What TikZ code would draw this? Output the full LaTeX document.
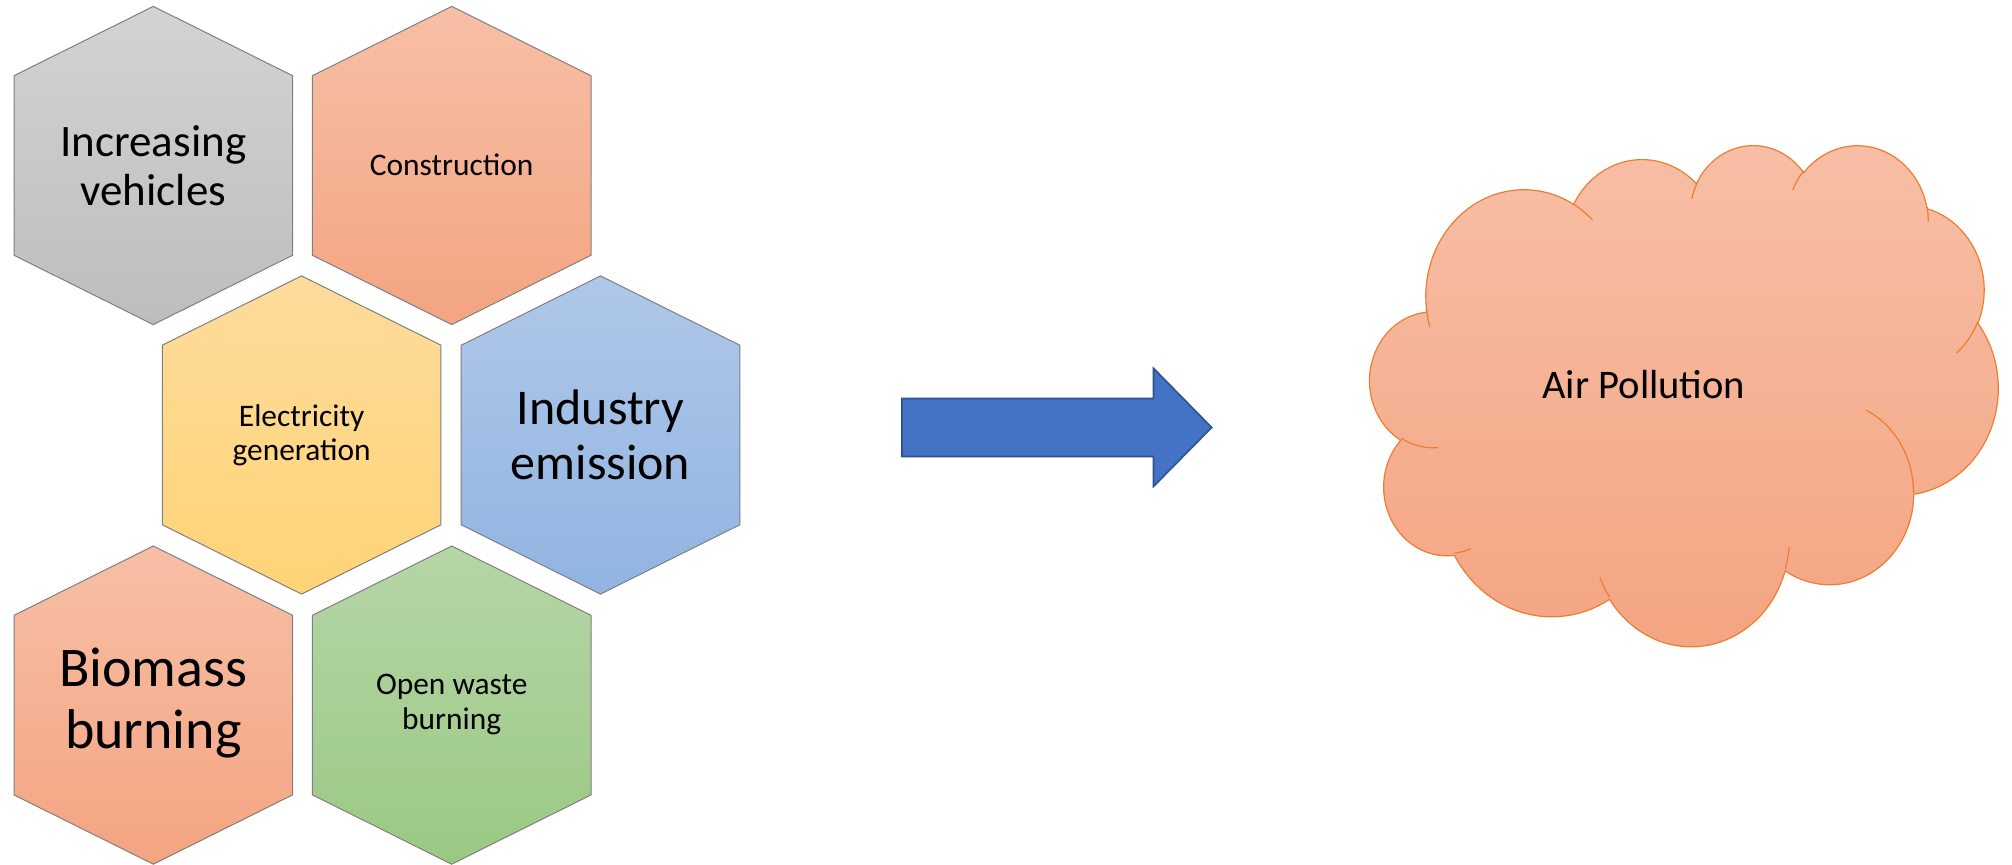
\documentclass[tikz,border=0pt]{standalone}
\usepackage{fontspec}
\setmainfont{Carlito}

% fill colours
\definecolor{grayA}{HTML}{D3D3D3}\definecolor{grayB}{HTML}{BDBDBD}
\definecolor{orangeA}{HTML}{F7BFA6}\definecolor{orangeB}{HTML}{F4A481}
\definecolor{yellowA}{HTML}{FEDB9C}\definecolor{yellowB}{HTML}{FFD476}
\definecolor{blueA}{HTML}{AFC8E9}\definecolor{blueB}{HTML}{91B4E1}
\definecolor{greenA}{HTML}{B5D6A6}\definecolor{greenB}{HTML}{9BC883}
\definecolor{hexedge}{HTML}{7F7F7F}
\definecolor{cloudedge}{HTML}{ED7D31}
\definecolor{arrowfill}{HTML}{4472C4}
\definecolor{arrowedge}{HTML}{2F528F}

% hexagonal cell: #1 centre x, #2 centre y, #3 top colour, #4 bottom colour
\newcommand\hexcell[4]{%
  \path[hexline, top color=#3, bottom color=#4]
    (#1-139.3,#2-89.8) -- (#1,#2-159.1) -- (#1+139.3,#2-89.8) --
    (#1+139.3,#2+89.8) -- (#1,#2+159.1) -- (#1-139.3,#2+89.8) -- cycle;}

% elliptic arc given by visual start angle and sweep: stores parametric
% start angle and sweep in \cldS<name> and \cldD<name>
\newcommand\cloudang[5]{%
  \pgfmathsetmacro\cldtmpa{atan2(#2*sin(#4),#3*cos(#4))}%
  \pgfmathsetmacro\cldtmpb{atan2(#2*sin(#4+#5),#3*cos(#4+#5))}%
  \pgfmathsetmacro\cldtmpd{\cldtmpb-\cldtmpa}%
  \pgfmathsetmacro\cldtmpd{\cldtmpd-360*floor(\cldtmpd/360)}%
  \expandafter\let\csname cldS#1\endcsname\cldtmpa
  \expandafter\let\csname cldD#1\endcsname\cldtmpd}

\begin{document}
\begin{tikzpicture}[x=0.5pt, y=-0.5pt,
    hexline/.style={draw=hexedge, line width=0.5pt, line join=miter},
    cloudline/.style={draw=cloudedge, line width=0.6pt},
    arrowshape/.style={draw=arrowedge, line width=0.8pt, fill=arrowfill, line join=miter},
    label/.style={align=center, inner sep=0pt, text=black}]

\useasboundingbox (0,0) rectangle (2012,865);

% honeycomb of causes
\hexcell{153.3}{165.5}{grayA}{grayB}
\hexcell{451.7}{165.5}{orangeA}{orangeB}
\hexcell{301.6}{435.0}{yellowA}{yellowB}
\hexcell{600.5}{435.0}{blueA}{blueB}
\hexcell{153.3}{705.1}{orangeA}{orangeB}
\hexcell{451.7}{705.1}{greenA}{greenB}

\node[label, font=\fontsize{22.5}{24.6}\selectfont] (vehicles) at (153.3,165.5) {Increasing\\vehicles};
\node[label, font=\fontsize{15.7}{17.2}\selectfont] (construction) at (451.7,164.5) {Construction};
\node[label, font=\fontsize{15.7}{17.2}\selectfont] (electricity) at (301.6,435.0) {Electricity\\generation};
\node[label, font=\fontsize{25}{27.3}\selectfont] (industry) at (600.5,435.0) {Industry\\emission};
\node[label, font=\fontsize{28}{30.6}\selectfont] (biomass) at (153.3,703.0) {Biomass\\burning};
\node[label, font=\fontsize{15.7}{17.2}\selectfont] (waste) at (451.7,704.5) {Open waste\\burning};

% block arrow
\draw[arrowshape] (902,398.5) -- (1153.5,398.5) -- (1153.5,368.3) -- (1211.7,427.5)
  -- (1153.5,486.5) -- (1153.5,456.5) -- (902,456.5) -- cycle;

% cloud outline arcs
\cloudang{A}{67.53}{91.90}{-190.4875}{123.7805}
\cloudang{B}{53.33}{72.67}{-144.1024}{89.9452}
\cloudang{C}{43.65}{59.45}{-145.8079}{99.7230}
\cloudang{D}{48.57}{65.95}{-130.9861}{117.2417}
\cloudang{E}{53.33}{72.73}{-78.7089}{109.0269}
\cloudang{F}{67.75}{92.20}{-46.2673}{130.2690}
\cloudang{G}{57.85}{78.67}{0.6250}{114.0333}
\cloudang{H}{67.52}{92.15}{22.4516}{115.1726}
\cloudang{I}{77.20}{105.43}{66.2426}{75.7110}
\cloudang{J}{43.60}{59.18}{-274.9421}{146.7356}
\cloudang{K}{43.45}{59.45}{-246.8285}{152.5189}
% cloud inner creases
\cloudang{a}{43.45}{59.45}{86.7420}{26.4295}
\cloudang{b}{43.60}{59.18}{73.6105}{11.4475}
\cloudang{c}{67.52}{92.15}{137.6242}{14.0811}
\cloudang{d}{67.52}{92.15}{6.4533}{15.9984}
\cloudang{e}{57.85}{78.67}{-70.2924}{70.9174}
\cloudang{f}{53.33}{72.73}{30.3180}{27.7515}
\cloudang{g}{48.57}{65.95}{-13.7443}{14.8589}
\cloudang{h}{48.57}{65.95}{-149.1815}{18.1954}
\cloudang{i}{43.65}{59.45}{-163.4943}{17.6864}
\cloudang{j}{67.53}{91.90}{-66.7070}{12.3194}
\cloudang{k}{67.53}{91.90}{157.6544}{11.8582}

\begin{scope}[shift={(685pt,-72pt)}, x=0.72685pt, y=-0.57986pt]
  \path[cloudline, top color=orangeA, bottom color=orangeB]
    (39.00,143.70)
    arc[x radius=67.53, y radius=91.90, start angle=\cldSA, delta angle=\cldDA]
    arc[x radius=53.33, y radius=72.67, start angle=\cldSB, delta angle=\cldDB]
    arc[x radius=43.65, y radius=59.45, start angle=\cldSC, delta angle=\cldDC]
    arc[x radius=48.57, y radius=65.95, start angle=\cldSD, delta angle=\cldDD]
    arc[x radius=53.33, y radius=72.73, start angle=\cldSE, delta angle=\cldDE]
    arc[x radius=67.75, y radius=92.20, start angle=\cldSF, delta angle=\cldDF]
    arc[x radius=57.85, y radius=78.67, start angle=\cldSG, delta angle=\cldDG]
    arc[x radius=67.52, y radius=92.15, start angle=\cldSH, delta angle=\cldDH]
    arc[x radius=77.20, y radius=105.43, start angle=\cldSI, delta angle=\cldDI]
    arc[x radius=43.60, y radius=59.18, start angle=\cldSJ, delta angle=\cldDJ]
    arc[x radius=43.45, y radius=59.45, start angle=\cldSK, delta angle=\cldDK]
    -- cycle;
  \draw[cloudline]
    (46.93,261.77) arc[x radius=43.45, y radius=59.45, start angle=\cldSa, delta angle=\cldDa]
    (69.28,348.99) arc[x radius=43.60, y radius=59.18, start angle=\cldSb, delta angle=\cldDb]
    (164.78,390.90) arc[x radius=67.52, y radius=92.15, start angle=\cldSc, delta angle=\cldDc]
    (288.27,347.51) arc[x radius=67.52, y radius=92.15, start angle=\cldSd, delta angle=\cldDd]
    (341.29,229.54) arc[x radius=57.85, y radius=78.67, start angle=\cldSe, delta angle=\cldDe]
    (417.98,153.54) arc[x radius=53.33, y radius=72.73, start angle=\cldSf, delta angle=\cldDf]
    (383.24,54.26) arc[x radius=48.57, y radius=65.95, start angle=\cldSg, delta angle=\cldDg]
    (290.78,39.52) arc[x radius=48.57, y radius=65.95, start angle=\cldSh, delta angle=\cldDh]
    (221.41,47.20) arc[x radius=43.65, y radius=59.45, start angle=\cldSi, delta angle=\cldDi]
    (140.00,51.92) arc[x radius=67.53, y radius=91.90, start angle=\cldSj, delta angle=\cldDj]
    (41.27,157.89) arc[x radius=67.53, y radius=91.90, start angle=\cldSk, delta angle=\cldDk];
\end{scope}

\node[label, font=\fontsize{20.3}{22}\selectfont] (pollution) at (1643.8,385) {Air Pollution};

\end{tikzpicture}
\end{document}
